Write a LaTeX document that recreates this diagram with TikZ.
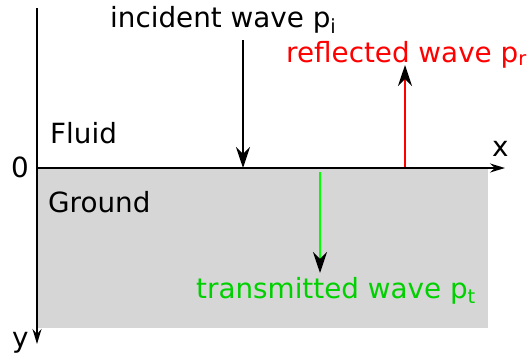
\documentclass[tikz,border=0pt]{standalone}
\usepackage{fontspec}
\setmainfont{DejaVu Sans}
\usepackage{xcolor}
\usetikzlibrary{arrows.meta}

\definecolor{groundgray}{HTML}{D6D6D6}
\definecolor{transgreen}{HTML}{00D000}

\tikzset{
  axis/.style={line width=1.8pt, -{Stealth[length=15pt, width=9pt, inset=5pt]}},
  wave/.style={line width=2.6pt, -{Stealth[length=21pt, width=14pt, inset=7pt, color=black]}},
  lbl/.style={inner sep=0pt, anchor=base west}
}

\begin{document}
\begin{tikzpicture}[x=1pt, y=-1pt, font=\fontsize{27.8}{33}\selectfont]

  \useasboundingbox (0,0) rectangle (529,356);

  % ground region
  \fill[groundgray] (37,168) rectangle (488,328);

  % axes
  \coordinate (O) at (37,168);
  \coordinate (ytop) at (37,8);
  \coordinate (xend) at (505,168);
  \coordinate (yend) at (37,344);
  \draw[line width=1.8pt] (ytop) -- (O);
  \draw[axis] (O) -- (xend);
  \draw[axis] (O) -- (yend);

  \node[lbl] (zero) at (11,177) {0};
  \node[lbl] (xlab) at (492,156) {x};
  \node[lbl] (ylab) at (12,347) {y};

  \node[lbl] (fluid) at (50,143) {Fluid};
  \node[lbl] (ground) at (48,212) {Ground};

  % waves
  \node[lbl] (inc) at (110,27) {incident wave p\textsubscript{i}};
  \node[lbl, red] (refl) at (286,62) {reflected wave p\textsubscript{r}};
  \node[lbl, transgreen] (trans) at (196,298) {transmitted wave p\textsubscript{t}};

  \coordinate (incstart) at (243,40);
  \coordinate (hit) at (243,168);
  \coordinate (reflstart) at (405,167);
  \coordinate (reflend) at (405,65);
  \coordinate (transstart) at (320,172);
  \coordinate (transend) at (320,273);

  \draw[wave, black] (incstart) -- (hit);
  \draw[wave, red] (reflstart) -- (reflend);
  \draw[wave, green] (transstart) -- (transend);

\end{tikzpicture}
\end{document}
